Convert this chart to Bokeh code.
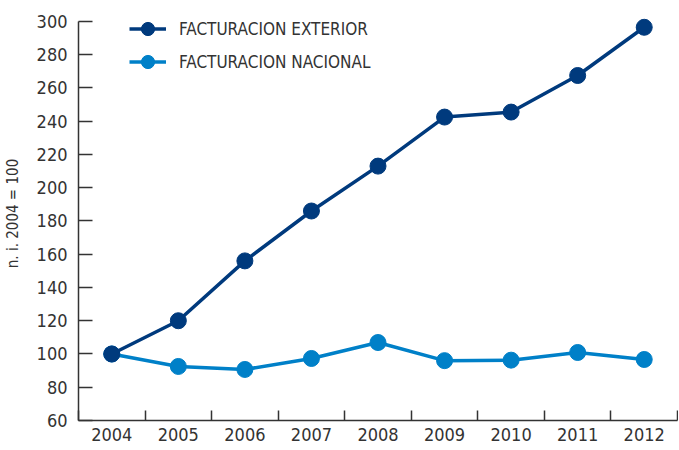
from bokeh.plotting import figure
from bokeh.models import FixedTicker, Range1d, Legend, LegendItem
from bokeh.embed import file_html
from bokeh.resources import INLINE

years = [2004, 2005, 2006, 2007, 2008, 2009, 2010, 2011, 2012]
exterior = [100, 120, 156, 186, 213, 242.5, 245.5, 267.5, 296.5]
nacional = [100, 92.5, 90.7, 97.3, 106.9, 96.0, 96.3, 100.9, 96.7]
y_ticks = [60, 80, 100, 120, 140, 160, 180, 200, 220, 240, 260, 280, 300]

FONT = "DejaVu Sans Condensed"
TXT = "#333333"
DARK = "#003a7d"
LIGHT = "#0080c8"

FRAME_H = 414

p = figure(frame_width=599, frame_height=FRAME_H, output_backend="svg", toolbar_location=None,
           x_range=Range1d(2003.5, 2012.5), y_range=Range1d(60, 309),
           min_border_left=71, min_border_right=1, min_border_top=6, min_border_bottom=0)
p.outline_line_color = None
p.grid.visible = False
p.background_fill_color = "white"
p.border_fill_color = "white"

ln = p.line(years, nacional, line_color=LIGHT, line_width=3.5)
sn = p.scatter(years, nacional, size=16, fill_color=LIGHT, line_color=LIGHT)
le = p.line(years, exterior, line_color=DARK, line_width=3.5)
se = p.scatter(years, exterior, size=16, fill_color=DARK, line_color=DARK)

legend = Legend(items=[LegendItem(label="FACTURACION EXTERIOR", renderers=[le, se]),
                       LegendItem(label="FACTURACION NACIONAL", renderers=[ln, sn])],
                location=(51, FRAME_H - 72), orientation="vertical",
                border_line_color=None, background_fill_alpha=0,
                padding=0, margin=0, spacing=0, glyph_width=37, glyph_height=33,
                label_height=33, label_standoff=13,
                label_text_font=FONT, label_text_font_size="17px", label_text_color=TXT)
p.add_layout(legend)

xa = p.xaxis[0]
xa.ticker = FixedTicker(ticks=years, minor_ticks=[y + 0.5 for y in [2003] + years])
xa.major_tick_in = 0
xa.major_tick_out = 0
xa.minor_tick_in = 10
xa.minor_tick_out = 0
xa.axis_line_color = TXT
xa.axis_line_width = 1.5
xa.minor_tick_line_color = TXT
xa.minor_tick_line_width = 1.5
xa.major_label_text_font = FONT
xa.major_label_text_font_size = "18px"
xa.major_label_text_color = TXT
xa.major_label_standoff = 7

ya = p.yaxis[0]
ya.ticker = FixedTicker(ticks=y_ticks)
ya.bounds = (60, 300)
ya.major_tick_in = 14
ya.major_tick_out = 0
ya.minor_tick_line_color = None
ya.axis_line_color = TXT
ya.axis_line_width = 1.5
ya.major_tick_line_color = TXT
ya.major_tick_line_width = 1.5
ya.major_label_text_font = FONT
ya.major_label_text_font_size = "18px"
ya.major_label_text_color = TXT
ya.major_label_standoff = 11
ya.axis_label = "n. i. 2004 = 100"
ya.axis_label_text_font = FONT
ya.axis_label_text_font_size = "15px"
ya.axis_label_text_font_style = "normal"
ya.axis_label_text_color = TXT
ya.axis_label_standoff = 12

open("out.html", "w").write(file_html(p, INLINE))
